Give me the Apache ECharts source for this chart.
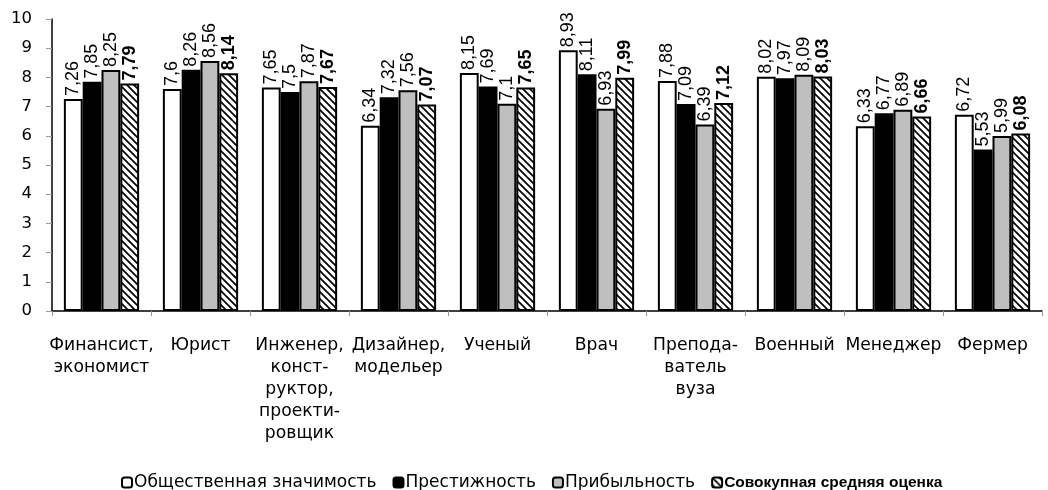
<!DOCTYPE html>
<html><head><meta charset="utf-8">
<script src="https://cdn.jsdelivr.net/npm/echarts@6/dist/echarts.min.js"></script>
<style>html,body{margin:0;padding:0;background:#fff}#c{width:1048px;height:490px}</style>
</head><body><div id="c"></div>
<script>
const categories = ['Финансист,\nэкономист','Юрист','Инженер,\nконст-\nруктор,\nпроекти-\nровщик','Дизайнер,\nмодельер','Ученый','Врач','Препода-\nватель\nвуза','Военный','Менеджер','Фермер'];
const seriesNames = ['Общественная значимость','Престижность','Прибыльность','Совокупная средняя оценка'];
const social = [7.26, 7.6, 7.65, 6.34, 8.15, 8.93, 7.88, 8.02, 6.33, 6.72];
const prestige = [7.85, 8.26, 7.5, 7.32, 7.69, 8.11, 7.09, 7.97, 6.77, 5.53];
const profit = [8.25, 8.56, 7.87, 7.56, 7.1, 6.93, 6.39, 8.09, 6.89, 5.99];
const overall = [7.79, 8.14, 7.67, 7.07, 7.65, 7.99, 7.12, 8.03, 6.66, 6.08];
const yTicks = [0,1,2,3,4,5,6,7,8,9,10];

function hatch(){
  const s = 7;
  const c = document.createElement('canvas');
  c.width = s; c.height = s;
  const g = c.getContext('2d');
  g.fillStyle = '#fff'; g.fillRect(0,0,s,s);
  g.strokeStyle = '#000'; g.lineWidth = 1.7;
  g.beginPath();
  g.moveTo(-1,-1); g.lineTo(s+1,s+1);
  g.moveTo(-s-1,-1); g.lineTo(1,s+1);
  g.moveTo(s-1,-1); g.lineTo(2*s+1,s+1);
  g.stroke();
  return c;
}
const fills = ['#ffffff','#000000','#bfbfbf',{image: hatch(), repeat:'repeat'}];
const datasets = [social, prestige, profit, overall];
const font = 'Liberation Sans, Arial, sans-serif';
const wide = 'DejaVu Sans, sans-serif';
const fmt = v => String(v).replace('.', ',');

const chart = echarts.init(document.getElementById('c'));
chart.setOption({
  animation:false,
  textStyle:{fontFamily:font},
  grid:{left:52,right:6,top:19,bottom:179,containLabel:false},
  legend:{
    top:469,left:116,itemWidth:10,itemHeight:10,itemGap:16,
    textStyle:{fontSize:17,color:'#000',fontFamily:wide,padding:[0,0,0,-3]},
    data:seriesNames.map((n,i)=>({name:n, textStyle: i===3?{fontWeight:'bold',fontFamily:font,fontSize:15.5}:{} }))
  },
  xAxis:{
    type:'category',data:categories,
    axisLine:{lineStyle:{color:'#000',width:1.5}},
    axisTick:{show:true,length:5,lineStyle:{color:'#999'}},
    axisLabel:{interval:0,color:'#000',fontSize:17.2,lineHeight:22,margin:24,fontFamily:wide}
  },
  yAxis:{
    type:'value',min:0,max:10,interval:1,
    axisLine:{show:true,lineStyle:{color:'#000',width:1.5}},
    axisTick:{show:true,length:6,lineStyle:{color:'#999'}},
    splitLine:{show:false},
    axisLabel:{color:'#000',fontSize:16.5,margin:20,fontFamily:wide,formatter:v=>yTicks.includes(v)?String(v):''}
  },
  series: datasets.map((d,i)=>({
    name:seriesNames[i], type:'bar', data:d,
    barGap:'0%', barCategoryGap:'24%',
    itemStyle:{color:fills[i], borderColor:'#000', borderWidth:2},
    label:{show:true, position:'top', rotate:90, align:'left', verticalAlign:'middle', distance:3,
      fontSize:18, color:'#000', fontWeight: i===3?'bold':'normal', fontFamily:font,
      formatter:p=>fmt(p.value)}
  }))
});
</script></body></html>
